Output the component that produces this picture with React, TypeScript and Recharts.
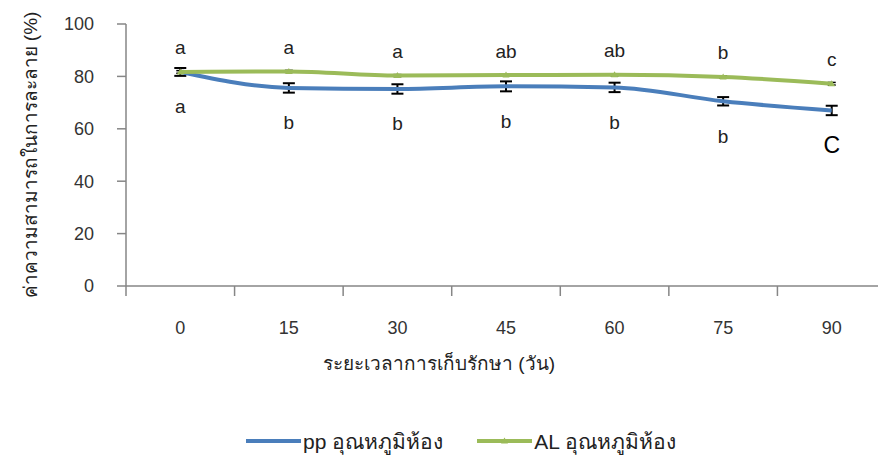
import React from 'react';
import {
  LineChart,
  Line,
  XAxis,
  YAxis,
  Legend,
  ErrorBar,
  LabelList,
} from 'recharts';

const days = ['0', '15', '30', '45', '60', '75', '90'];
const ppValues = [81.7, 75.6, 75.2, 76.2, 75.8, 70.5, 67.0];
const ppErrors = [1.5, 1.8, 1.8, 1.9, 1.8, 1.6, 1.8];
const ppLetters = ['a', 'b', 'b', 'b', 'b', 'b', 'C'];
const alValues = [81.7, 81.9, 80.3, 80.5, 80.6, 79.8, 77.2];
const alErrors = [0.5, 0.4, 0.4, 0.4, 0.4, 0.4, 0.5];
const alLetters = ['a', 'a', 'a', 'ab', 'ab', 'b', 'c'];
const yTicks = [0, 20, 40, 60, 80, 100];

const data = days.map((d, i) => ({
  day: d,
  pp: ppValues[i],
  ppErr: ppErrors[i],
  ppLbl: ppLetters[i],
  al: alValues[i],
  alErr: alErrors[i],
  alLbl: alLetters[i],
}));

const BLUE = '#4a7ebb';
const GREEN = '#9bbb59';
const AXIS = '#868686';
const SANS = '"Liberation Sans", Arial, sans-serif';

const CHART_W = 900;
const CHART_H = 458;
const MARGIN = { top: 24, right: 14, left: 0, bottom: 2 };
const Y_W = 126;
const CAT_W = (CHART_W - MARGIN.right - Y_W) / days.length;

// category ticks sit between the points, like the source sheet
const XTick = (props: any) => {
  const { x, y, payload } = props;
  const lx = x - CAT_W / 2;
  return (
    <g>
      <line x1={lx} y1={y - 10} x2={lx} y2={y} stroke={AXIS} strokeWidth={1.5} />
      <text x={x} y={y + 38} textAnchor="middle" fontSize={18} fill="#333" fontFamily={SANS}>
        {payload.value}
      </text>
    </g>
  );
};

const YTitle = (props: any) => {
  const { viewBox } = props;
  const cx = 30;
  const cy = viewBox.y + viewBox.height / 2;
  return (
    <text
      x={cx}
      y={cy}
      transform={`rotate(-90 ${cx} ${cy})`}
      textAnchor="middle"
      dominantBaseline="central"
      fontSize={19}
      fill="#222"
      fontFamily={SANS}
    >
      ค่าความสามารถในการละลาย (%)
    </text>
  );
};

const XTitle = (props: any) => {
  const { viewBox } = props;
  return (
    <text x={439} y={viewBox.y + 84} textAnchor="middle" fontSize={19} fill="#222" fontFamily={SANS}>
      ระยะเวลาการเก็บรักษา (วัน)
    </text>
  );
};

const above = (props: any) => {
  const { x, y, value } = props;
  return (
    <text x={x} y={y - 24} textAnchor="middle" dominantBaseline="central" fontSize={19} fill="#222" fontFamily={SANS}>
      {value}
    </text>
  );
};

const below = (props: any) => {
  const { x, y, value } = props;
  const big = value === value.toUpperCase();
  return (
    <text
      x={x}
      y={y + 35}
      textAnchor="middle"
      dominantBaseline="central"
      fontSize={big ? 23 : 19}
      fill={big ? '#000' : '#222'}
      fontFamily={SANS}
    >
      {value}
    </text>
  );
};

const Triangle = (props: any) => {
  const { cx, cy } = props;
  if (cx == null || cy == null) return null;
  return <path d={`M${cx},${cy - 3.5}L${cx + 3.5},${cy + 2.5}L${cx - 3.5},${cy + 2.5}Z`} fill={GREEN} />;
};

const legendItems = [
  { name: 'pp อุณหภูมิห้อง', color: BLUE, marker: false },
  { name: 'AL อุณหภูมิห้อง', color: GREEN, marker: true },
];

const LegendBox = () => (
  <div style={{ display: 'flex', justifyContent: 'center', paddingLeft: 36, height: 30, alignItems: 'center' }}>
    {legendItems.map((it, i) => (
      <div key={it.name} style={{ display: 'flex', alignItems: 'center', marginLeft: i ? 34 : 0 }}>
        <svg width={55} height={10}>
          <line x1={0} y1={5} x2={55} y2={5} stroke={it.color} strokeWidth={4} />
          {it.marker && <path d="M27.5,1.5L31,7.5L24,7.5Z" fill={it.color} />}
        </svg>
        <span style={{ fontFamily: SANS, fontSize: 21, color: '#222', marginLeft: 2 }}>{it.name}</span>
      </div>
    ))}
  </div>
);

export default function App() {
  return (
    <div style={{ position: 'absolute', left: 0, top: 0, width: 878, height: 458, overflow: 'hidden', background: '#fff' }}>
      <LineChart width={CHART_W} height={CHART_H} data={data} margin={MARGIN}>
        <XAxis
          dataKey="day"
          height={140}
          padding={{ left: CAT_W / 2, right: CAT_W / 2 }}
          axisLine={{ stroke: AXIS, strokeWidth: 1.5 }}
          tickLine={false}
          tickSize={10}
          tickMargin={0}
          interval={0}
          tick={<XTick />}
          label={<XTitle />}
        />
        <YAxis
          width={Y_W}
          domain={[0, 100]}
          ticks={yTicks}
          axisLine={{ stroke: AXIS, strokeWidth: 1.5 }}
          tickLine={{ stroke: AXIS, strokeWidth: 1.5 }}
          tickSize={9}
          tickMargin={23}
          tick={{ fontSize: 18, fill: '#333', fontFamily: SANS }}
          label={<YTitle />}
        />
        <Legend verticalAlign="bottom" height={30} content={<LegendBox />} />
        <Line
          type="monotone"
          dataKey="pp"
          stroke={BLUE}
          strokeWidth={4}
          dot={false}
          isAnimationActive={false}
          name="pp อุณหภูมิห้อง"
        >
          <ErrorBar dataKey="ppErr" width={6} stroke="#000" strokeWidth={2} />
          <LabelList dataKey="ppLbl" content={below} />
        </Line>
        <Line
          type="monotone"
          dataKey="al"
          stroke={GREEN}
          strokeWidth={4}
          dot={<Triangle />}
          isAnimationActive={false}
          name="AL อุณหภูมิห้อง"
        >
          <ErrorBar dataKey="alErr" width={4} stroke="#000" strokeWidth={1.5} />
          <LabelList dataKey="alLbl" content={above} />
        </Line>
      </LineChart>
    </div>
  );
}
